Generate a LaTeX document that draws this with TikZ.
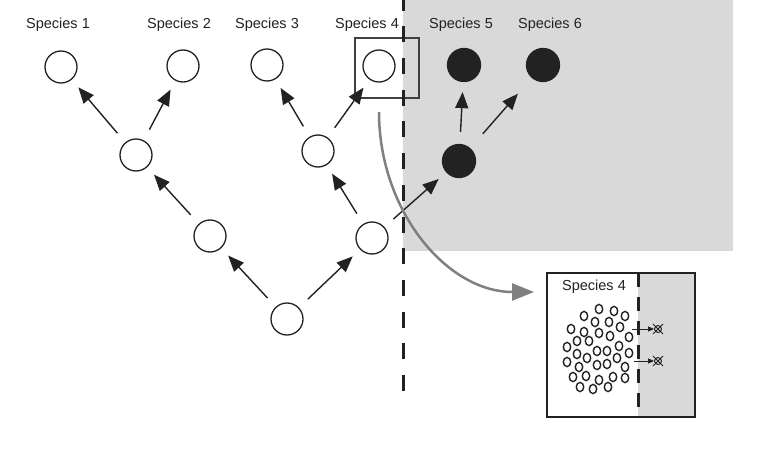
\documentclass[tikz,border=0pt]{standalone}
\usepackage{fontspec}
\setmainfont{Liberation Sans}
\usetikzlibrary{arrows.meta}
\definecolor{bggray}{HTML}{D9D9D9}
\definecolor{ink}{HTML}{222222}
\tikzset{
  sp/.style={circle,draw=ink,line width=1.3pt,minimum size=32pt,inner sep=0pt},
  gone/.style={sp,fill=ink,minimum size=33pt},
  lbl/.style={anchor=base,text=ink,font=\fontsize{14.5}{16}\selectfont},
  edge/.style={-{Triangle[length=16pt,width=13pt]},line width=1.4pt,draw=ink,
    shorten <=12pt,shorten >=10pt},
  barrier/.style={line width=3pt,draw=ink,dash pattern=on 16pt off 15.7pt},
  cell/.style={line width=1.4pt,draw=ink},
  dead/.style={circle,draw=ink,line width=1pt,minimum size=7pt,inner sep=0pt},
  migr/.style={-{Triangle[length=22pt,width=17pt]},line width=2.5pt,draw=black!50}
}
\begin{document}
\begin{tikzpicture}[x=1pt,y=-1pt]
      \useasboundingbox (0,0) rectangle (773,449);
      \fill[bggray] (403,0) rectangle (733,251);
      \draw
        (61,67) node[sp] (s1){}
        (183,66) node[sp] (s2){}
        (267,65) node[sp] (s3){}
        (379,66) node[sp] (s4){}
        (464,65) node[gone] (s5){}
        (543,65) node[gone] (s6){}
        (136,155) node[sp] (a){}
        (318,151) node[sp] (b){}
        (459,161) node[gone] (c){}
        (210,236) node[sp] (d){}
        (372,238) node[sp] (e){}
        (287,319) node[sp] (r){};
      \node[draw=black!75,line width=1.3pt,minimum width=64pt,minimum height=60pt] (box4) at (387,68) {};
      \node[lbl] at (58,29) {Species 1};
      \node[lbl] at (179,29) {Species 2};
      \node[lbl] at (267,29) {Species 3};
      \node[lbl] at (367,29) {Species 4};
      \node[lbl] at (461,29) {Species 5};
      \node[lbl] at (550,29) {Species 6};
      \begin{scope}[edge]
        \draw (a) to (s1);
        \draw (a) to (s2);
        \draw (b) to (s3);
        \draw (b) to (s4);
        \draw (c) to (s5);
        \draw[shorten <=19pt,shorten >=21pt] (c) to (s6);
        \draw (d) to (a);
        \draw (e) to (b);
        \draw (e) to (c);
        \draw (r) to (d);
        \draw (r) to (e);
      \end{scope}
      \draw[barrier] (403,391) -- (403,0);
      \coordinate (out4) at (379,112);
      \coordinate (in4) at (534,292);
      \draw[migr] (out4) .. controls (379,211) and (447,292) .. (in4);
      \fill[bggray] (638,273) rectangle (695,417);
      \node[draw=ink,line width=1.4pt,minimum width=148pt,minimum height=144pt] (inset) at (621,345) {};
      \draw[line width=3pt,draw=ink,dash pattern=on 14pt off 10pt] (638,273) -- (638,417);
      \node[lbl] at (594,290) {Species 4};
      \foreach \p in {(599,309),(614,311),(584,316),(625,316),(595,322),(609,322),
          (571,329),(584,332),(620,327),(599,333),(610,336),(629,337),(577,341),
          (589,341),(567,347),(619,346),(577,354),(597,351),(607,351),(629,353),
          (587,358),(567,362),(617,358),(579,367),(597,365),(607,364),(625,367),
          (573,377),(586,376),(599,380),(613,377),(625,378),(580,387),(593,389),(608,387)}
        \draw[cell] \p ellipse (3.7pt and 4.6pt);
      \node[dead] (d1) at (658,329) {};
      \node[dead] (d2) at (658,361) {};
      \foreach \n in {d1,d2}
        \draw[line width=0.9pt,draw=ink] (\n.center) +(-5,-5) -- +(5,5) +(-5,5) -- +(5,-5);
      \coordinate (m1) at (632,329);
      \coordinate (m2) at (634,361);
      \begin{scope}[-{Triangle[length=6pt,width=5pt]},line width=1pt,draw=ink]
        \draw (m1) to (d1);
        \draw (m2) to (d2);
      \end{scope}
    \end{tikzpicture}
\end{document}
